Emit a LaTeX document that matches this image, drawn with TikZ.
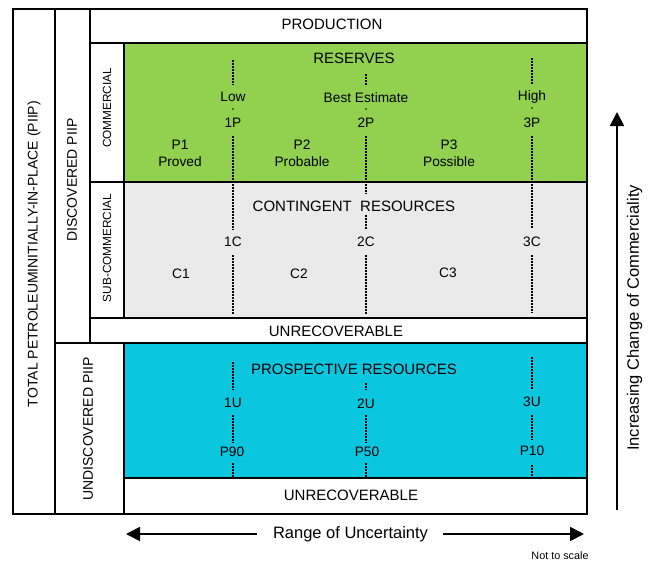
\documentclass[tikz,border=0pt]{standalone}
\usepackage{fontspec}
\setmainfont{Liberation Sans}
\usetikzlibrary{arrows.meta}
\definecolor{resgreen}{HTML}{92D050}
\definecolor{contgrey}{HTML}{EAEAEA}
\definecolor{prospcyan}{HTML}{0AC6DF}
\tikzset{
  box/.style={draw=black, line width=1.8pt, inner sep=0pt, anchor=north west},
  big/.style={inner sep=0pt, font=\fontsize{15}{18}\selectfont},
  mid/.style={inner sep=0pt, font=\fontsize{13.7}{16}\selectfont},
  side/.style={inner sep=0pt, rotate=90, font=\fontsize{14}{17}\selectfont},
  small/.style={inner sep=0pt, rotate=90, font=\fontsize{11.8}{14}\selectfont},
  dotl/.style={line width=1.8pt, dash pattern=on 1.5pt off 1.5pt},
  arr/.style={line width=1.8pt, -{Triangle[length=14pt,width=14pt]}},
}
\begin{document}
\begin{tikzpicture}[x=1pt,y=-1pt]
\useasboundingbox (0,0) rectangle (651,563);
% boxes
\node[box, minimum width=42pt, minimum height=505pt] (total) at (12,8) {};
\node[box, minimum width=35pt, minimum height=334pt] (disc) at (54,8) {};
\node[box, minimum width=69pt, minimum height=171pt] (undisc) at (54,342) {};
\node[box, minimum width=497pt, minimum height=34pt] (prod) at (89,8) {};
\node[box, minimum width=34pt, minimum height=139pt] (comm) at (89,42) {};
\node[box, fill=resgreen, minimum width=463pt, minimum height=139pt] (res) at (123,42) {};
\node[box, minimum width=34pt, minimum height=136pt] (subc) at (89,181) {};
\node[box, fill=contgrey, minimum width=463pt, minimum height=136pt] (cont) at (123,181) {};
\node[box, minimum width=497pt, minimum height=25pt] (unrecA) at (89,317) {};
\node[box, fill=prospcyan, minimum width=463pt, minimum height=135pt] (prosp) at (123,342) {};
\node[box, minimum width=463pt, minimum height=36pt] (unrecB) at (123,477) {};
% side labels
\node[side] (ttotal) at (34,254) {TOTAL PETROLEUMINITIALLY-IN-PLACE (PIIP)};
\node[side] (tdisc) at (72,180) {DISCOVERED PIIP};
\node[side] (tundisc) at (88,429) {UNDISCOVERED PIIP};
\node[small] (tcomm) at (107,108) {COMMERCIAL};
\node[small] (tsubc) at (107,248) {SUB-COMMERCIAL};
% row titles
\node[big] (tprod) at (332,24) {PRODUCTION};
\node[big] (tres) at (354,58) {RESERVES};
\node[big] (tcont) at (354,206.5) {CONTINGENT\ \ RESOURCES};
\node[big] (tunrecA) at (336,331) {UNRECOVERABLE};
\node[big] (tprosp) at (354,369.5) {PROSPECTIVE RESOURCES};
\node[big] (tunrecB) at (351,495) {UNRECOVERABLE};
% reserves labels
\node[mid] (low) at (233,97) {Low};
\node[mid] (best) at (366,98) {Best Estimate};
\node[mid] (high) at (532,96.5) {High};
\node[mid] (onep) at (233,122.5) {1P};
\node[mid] (twop) at (366,122.5) {2P};
\node[mid] (threep) at (532,122.5) {3P};
\node[mid] (pone) at (180,145) {P1};
\node[mid] (proved) at (180,162) {Proved};
\node[mid] (ptwo) at (302,145) {P2};
\node[mid] (probable) at (302,162) {Probable};
\node[mid] (pthree) at (449,145) {P3};
\node[mid] (possible) at (449,162) {Possible};
% contingent labels
\node[mid] (onec) at (233,242) {1C};
\node[mid] (twoc) at (366,242) {2C};
\node[mid] (threec) at (532,242) {3C};
\node[mid] (cone) at (181,274) {C1};
\node[mid] (ctwo) at (299,274) {C2};
\node[mid] (cthree) at (448,273) {C3};
% prospective labels
\node[mid] (oneu) at (233,403) {1U};
\node[mid] (twou) at (366,404) {2U};
\node[mid] (threeu) at (532,402) {3U};
\node[mid] (pninety) at (232,452) {P90};
\node[mid] (pfifty) at (367,452) {P50};
\node[mid] (pten) at (532,451) {P10};
% dotted lines
\draw[dotl] (233,60) -- (233,85);
\fill (233,109) circle (0.9pt);
\draw[dotl] (233,136) -- (233,230);
\draw[dotl] (233,255) -- (233,315);
\draw[dotl] (366,74) -- (366,85);
\fill (366,109) circle (0.9pt);
\draw[dotl] (366,136) -- (366,194);
\draw[dotl] (366,215) -- (366,230);
\draw[dotl] (366,255) -- (366,315);
\draw[dotl] (532,58) -- (532,85);
\fill (532,108) circle (0.9pt);
\draw[dotl] (532,136) -- (532,228);
\draw[dotl] (532,255) -- (532,313);
\draw[dotl] (233,362) -- (233,390);
\draw[dotl] (233,415) -- (233,443);
\draw[dotl] (233,463) -- (233,477);
\draw[dotl] (366,383) -- (366,390);
\draw[dotl] (366,415) -- (366,443);
\draw[dotl] (366,463) -- (366,477);
\draw[dotl] (532,357) -- (532,390);
\draw[dotl] (532,415) -- (532,440);
\draw[dotl] (532,465) -- (532,477);
% axes
\node[inner sep=0pt, font=\fontsize{16.5}{20}\selectfont] (range) at (350.5,534) {Range of Uncertainty};
\node[inner sep=0pt, rotate=90, font=\fontsize{16.5}{20}\selectfont] (incr) at (634.5,318) {Increasing Change of Commerciality};
\node[inner sep=0pt, font=\fontsize{10.8}{13}\selectfont] (nts) at (560,556) {Not to scale};
\coordinate (lt) at (257,534);
\coordinate (lh) at (126,534);
\coordinate (rt) at (443,534);
\coordinate (rh) at (584,534);
\coordinate (ut) at (617,510);
\coordinate (uh) at (617,112);
\draw[arr] (lt) -- (lh);
\draw[arr] (rt) -- (rh);
\draw[arr] (ut) -- (uh);
\end{tikzpicture}
\end{document}
